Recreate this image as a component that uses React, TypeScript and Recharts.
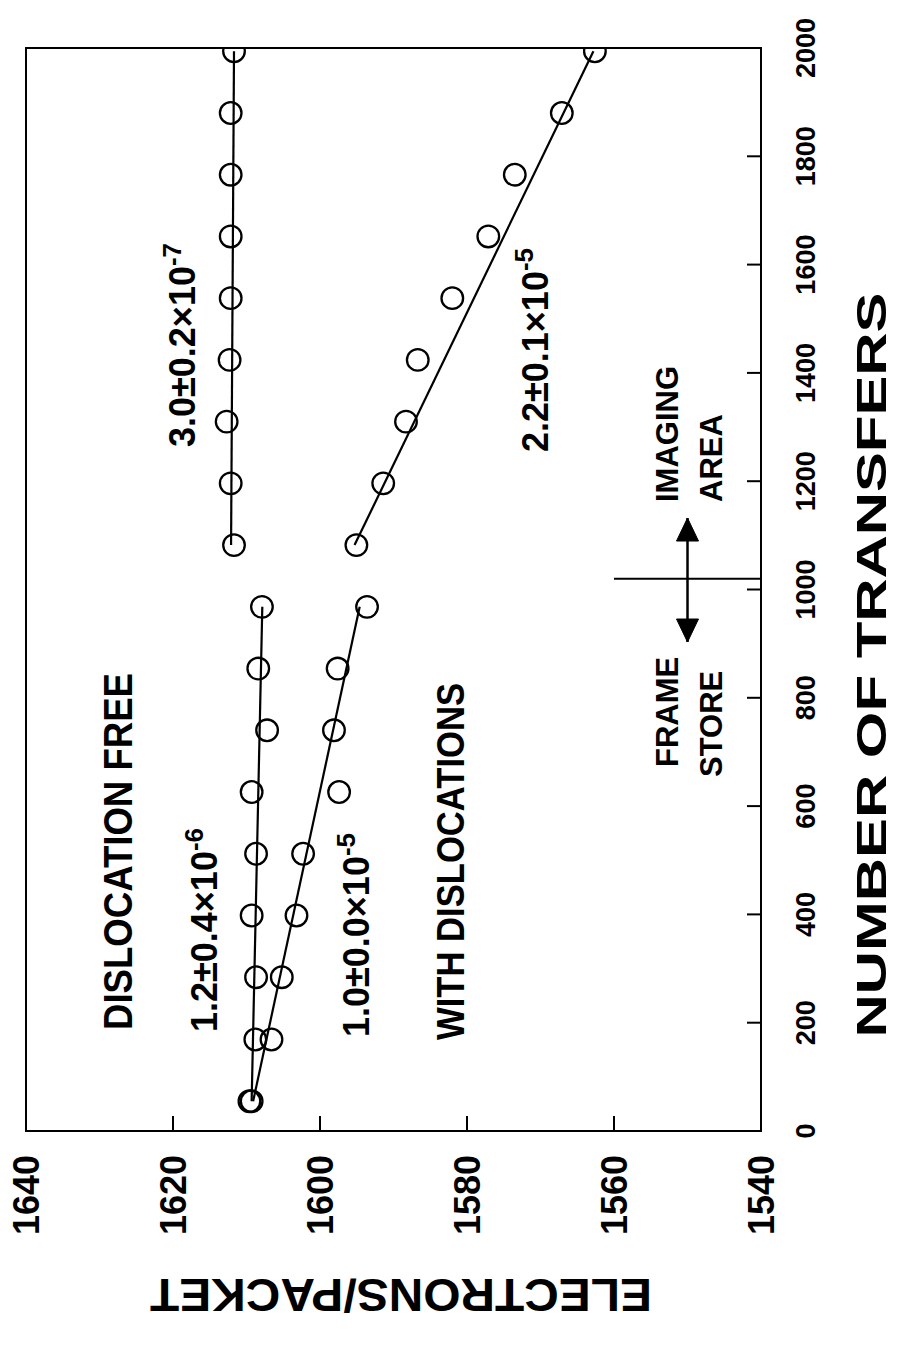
import React from 'react';
import {
  ComposedChart,
  Line,
  Scatter,
  XAxis,
  YAxis,
  ReferenceArea,
  ReferenceLine,
  Label,
} from 'recharts';

// ---------- data ----------
const transferTicks = [0, 200, 400, 600, 800, 1000, 1200, 1400, 1600, 1800, 2000];
const electronTicks = [1540, 1560, 1580, 1600, 1620, 1640];

const frameStoreTransfers = [55, 169, 284, 398, 512, 626, 740, 854, 968];
const imagingTransfers = [1082, 1196, 1310, 1424, 1538, 1652, 1766, 1880, 1994];

const dislocationFreeValues = [1609.6, 1608.8, 1608.7, 1609.3, 1608.7, 1609.3, 1607.2, 1608.4, 1607.9];
const withDislocationsValues = [1609.3, 1606.6, 1605.2, 1603.2, 1602.3, 1597.4, 1598.1, 1597.6, 1593.6];
const imagingUpperValues = [1611.7, 1612.15, 1612.7, 1612.3, 1612.15, 1612.15, 1612.15, 1612.15, 1611.7];
const imagingLowerValues = [1595.05, 1591.4, 1588.3, 1586.7, 1582.0, 1577.1, 1573.5, 1567.1, 1562.6];

// fitted lines (end points)
const fitFrameStoreTransfers = [55, 968];
const fitImagingTransfers = [1082, 1994];
const fitDislocationFree = [1609.3, 1607.85];
const fitWithDislocations = [1609.1, 1594.6];
const fitImagingUpper = [1612.1, 1611.7];
const fitImagingLower = [1595.3, 1562.8];

// boundary between frame store and imaging area
const boundaryTransfer = 1020;
const boundaryElectrons = [1540, 1560];
// double arrow
const arrowTransfers = [903, 1132];
const arrowElectrons = 1550;

// annotation texts and their anchors (data coordinates)
const annotationTexts = [
  'DISLOCATION FREE',
  '1.2±0.4×10',
  '1.0±0.0×10',
  'WITH DISLOCATIONS',
  'FRAME',
  'STORE',
  'IMAGING',
  'AREA',
  '3.0±0.2×10',
  '2.2±0.1×10',
];
const annotationSups = ['', '-6', '-5', '', '', '', '', '', '-7', '-5'];
const annotationTransfers = [186.5, 182.8, 173.6, 168.1, 672.2, 653.7, 1161.6, 1161.6, 1263.2, 1253.9];
const annotationElectrons = [1625.6, 1614.0, 1593.3, 1580.4, 1551.3, 1545.3, 1551.3, 1545.3, 1617.0, 1569.0];

// ---------- derived ----------
const zip = (ts: number[], es: number[]) => ts.map((t, i) => ({ t, e: es[i] }));
const dfData = zip(frameStoreTransfers, dislocationFreeValues);
const wdData = zip(frameStoreTransfers, withDislocationsValues);
const iuData = zip(imagingTransfers, imagingUpperValues);
const ilData = zip(imagingTransfers, imagingLowerValues);
const dfFit = zip(fitFrameStoreTransfers, fitDislocationFree);
const wdFit = zip(fitFrameStoreTransfers, fitWithDislocations);
const iuFit = zip(fitImagingTransfers, fitImagingUpper);
const ilFit = zip(fitImagingTransfers, fitImagingLower);
const arrowData = arrowTransfers.map((t) => ({ t, e: arrowElectrons }));
const annData = annotationTexts.map((text, i) => ({
  t: annotationTransfers[i],
  e: annotationElectrons[i],
  text,
  sup: annotationSups[i],
  idx: i,
}));

// ---------- styles ----------
const W = 1349;
const H = 899;
const FONT = '"Liberation Sans", Arial, Helvetica, sans-serif';
const annSize = [40, 36, 36, 38, 31, 31, 31, 31, 36, 36];
const annLength: Record<number, number> = { 0: 357, 3: 357 };

const CircleShape = (p: any) => (
  <circle cx={p.cx} cy={p.cy} r={10.8} fill="none" stroke="#000" strokeWidth={2.3} />
);

const AnnShape = (p: any) => {
  const { cx, cy, payload } = p;
  const size = annSize[payload.idx];
  const len = annLength[payload.idx];
  const extra: any = len ? { textLength: len, lengthAdjust: 'spacingAndGlyphs' } : {};
  return (
    <text x={cx} y={cy} fontFamily={FONT} fontWeight="bold" fontSize={size} fill="#000" {...extra}>
      {payload.text}
      {payload.sup ? (
        <tspan dy={-size * 0.4} fontSize={size * 0.72}>
          {payload.sup}
        </tspan>
      ) : null}
    </text>
  );
};

const ArrowHead = (p: any) => {
  const { cx, cy, index } = p;
  if (cx == null || cy == null) return <g key={`ah${index}`} />;
  const dir = index === 0 ? -1 : 1;
  const L = 23;
  const hw = 11;
  const pts = `${cx},${cy} ${cx - dir * L},${cy - hw} ${cx - dir * L},${cy + hw}`;
  return <polygon key={`ah${index}`} points={pts} fill="#000" stroke="#000" />;
};

const XTick = (p: any) => {
  const { x, y, payload } = p;
  const v = payload.value;
  return (
    <g>
      {v > 0 && v < 2000 ? <line x1={x} y1={y} x2={x} y2={y - 14} stroke="#000" strokeWidth={2} /> : null}
      <text x={x} y={y + 54} textAnchor="middle" fontFamily={FONT} fontWeight="bold" fontSize={27} fill="#000">
        {v}
      </text>
    </g>
  );
};

const YTick = (p: any) => {
  const { x, y, payload } = p;
  const v = payload.value;
  return (
    <g>
      {v > 1540 && v < 1640 ? <line x1={x} y1={y} x2={x + 15} y2={y} stroke="#000" strokeWidth={2} /> : null}
      <text x={x - 24} y={y} dy="0.36em" textAnchor="end" fontFamily={FONT} fontWeight="bold" fontSize={36} fill="#000">
        {v}
      </text>
    </g>
  );
};

const XTitle = () => (
  <text x={684} y={886} textAnchor="middle" fontFamily={FONT} fontWeight="bold" fontSize={42} fill="#000"
    textLength={745} lengthAdjust="spacingAndGlyphs">
    NUMBER OF TRANSFERS
  </text>
);

const YTitle = () => (
  <text x={70} y={401} transform="rotate(-90, 70, 401)" textAnchor="middle" fontFamily={FONT} fontWeight="bold"
    fontSize={46} fill="#000" textLength={502} lengthAdjust="spacingAndGlyphs">
    ELECTRONS/PACKET
  </text>
);

export default function App() {
  return (
    <div style={{ position: 'absolute', left: 0, top: 0, width: 899, height: 1349, background: '#fff', overflow: 'hidden' }}>
      <div
        style={{
          position: 'absolute',
          left: 0,
          top: 0,
          width: W,
          height: H,
          transformOrigin: '0 0',
          transform: `translateY(${W}px) rotate(-90deg)`,
        }}
      >
        <ComposedChart width={W} height={H} margin={{ top: 26, right: 48, bottom: 0, left: 0 }}>
          <XAxis
            type="number"
            dataKey="t"
            domain={[0, 2000]}
            ticks={transferTicks}
            interval={0}
            height={138}
            tickSize={0}
            tickMargin={0}
            tickLine={false}
            axisLine={{ stroke: '#000', strokeWidth: 2 }}
            tick={(p: any) => <XTick {...p} />}
            allowDataOverflow
          >
            <Label content={() => <XTitle />} />
          </XAxis>
          <YAxis
            type="number"
            dataKey="e"
            domain={[1540, 1640]}
            ticks={electronTicks}
            interval={0}
            width={218}
            tickSize={0}
            tickMargin={0}
            tickLine={false}
            axisLine={{ stroke: '#000', strokeWidth: 2 }}
            tick={(p: any) => <YTick {...p} />}
            allowDataOverflow
          >
            <Label content={() => <YTitle />} />
          </YAxis>
          <ReferenceArea x1={0} x2={2000} y1={1540} y2={1640} fill="none" fillOpacity={0} stroke="#000" strokeWidth={2} ifOverflow="visible" />
          <ReferenceLine
            segment={[
              { x: boundaryTransfer, y: boundaryElectrons[0] },
              { x: boundaryTransfer, y: boundaryElectrons[1] },
            ]}
            stroke="#000"
            strokeWidth={2}
            ifOverflow="visible"
          />
          <Line data={arrowData} dataKey="e" stroke="#000" strokeWidth={2.5} dot={(p: any) => <ArrowHead {...p} />} activeDot={false} isAnimationActive={false} legendType="none" />
          <Line data={dfFit} dataKey="e" stroke="#000" strokeWidth={2.2} dot={false} activeDot={false} isAnimationActive={false} />
          <Line data={wdFit} dataKey="e" stroke="#000" strokeWidth={2.2} dot={false} activeDot={false} isAnimationActive={false} />
          <Line data={iuFit} dataKey="e" stroke="#000" strokeWidth={2.2} dot={false} activeDot={false} isAnimationActive={false} />
          <Line data={ilFit} dataKey="e" stroke="#000" strokeWidth={2.2} dot={false} activeDot={false} isAnimationActive={false} />
          <Scatter data={dfData} dataKey="e" shape={(p: any) => <CircleShape {...p} />} isAnimationActive={false} />
          <Scatter data={wdData} dataKey="e" shape={(p: any) => <CircleShape {...p} />} isAnimationActive={false} />
          <Scatter data={iuData} dataKey="e" shape={(p: any) => <CircleShape {...p} />} isAnimationActive={false} />
          <Scatter data={ilData} dataKey="e" shape={(p: any) => <CircleShape {...p} />} isAnimationActive={false} />
          <Scatter data={annData} dataKey="e" shape={(p: any) => <AnnShape {...p} />} isAnimationActive={false} />
        </ComposedChart>
      </div>
    </div>
  );
}
